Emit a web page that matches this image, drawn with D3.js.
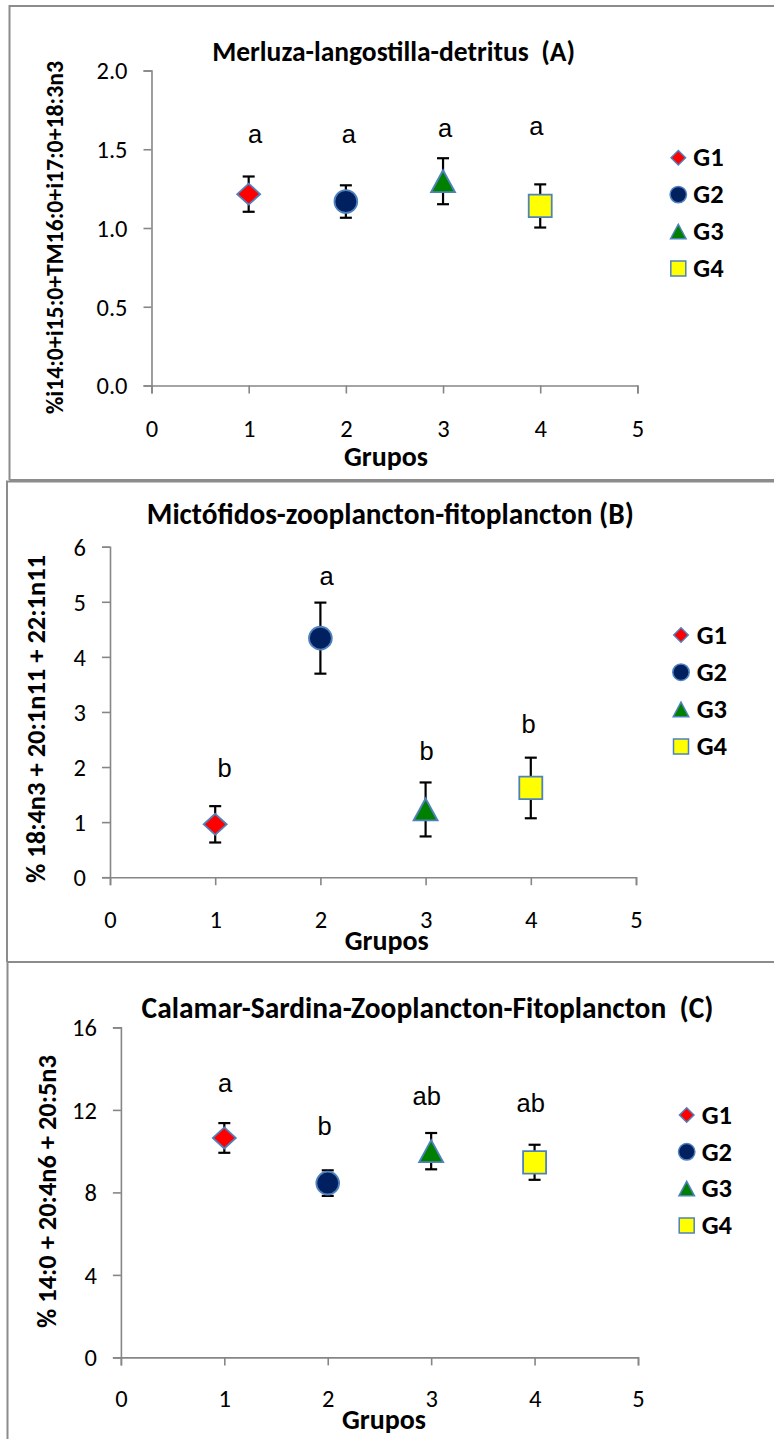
<!DOCTYPE html>
<html><head><meta charset="utf-8">
<script src="https://cdn.jsdelivr.net/npm/d3@7"></script>
<style>
html,body{margin:0;padding:0;background:#fff;}
svg{display:block;}
text.title{white-space:pre;}
</style></head>
<body>
<svg id="chart" width="774" height="1439"></svg>
<script>
// ---------------- data ----------------
const groups = ["G1", "G2", "G3", "G4"];
const groupX = [1, 2, 3, 4];
const xTicks = [0, 1, 2, 3, 4, 5];
const xLabel = "Grupos";

const titleA = "Merluza-langostilla-detritus  (A)";
const yLabelA = "%i14:0+i15:0+TM16:0+i17:0+18:3n3";
const meanA = [1.215, 1.168, 1.297, 1.140];
const errA = [0.112, 0.103, 0.146, 0.137];
const lettersA = ["a", "a", "a", "a"];
const letterXA = [1.065, 2.03, 3.02, 3.96];
const letterYA = [1.539, 1.539, 1.577, 1.591];
const yTicksA = [0, 0.5, 1.0, 1.5, 2.0];

const titleB = "Mictófidos-zooplancton-fitoplancton (B)";
const yLabelB = "% 18:4n3 + 20:1n11 + 22:1n11";
const meanB = [0.96, 4.34, 1.23, 1.62];
const errB = [0.33, 0.645, 0.49, 0.55];
const lettersB = ["b", "a", "b", "b"];
const letterXB = [1.09, 2.06, 3.01, 3.98];
const letterYB = [1.81, 5.30, 2.13, 2.62];
const yTicksB = [0, 1, 2, 3, 4, 5, 6];

const titleC = "Calamar-Sardina-Zooplancton-Fitoplancton  (C)";
const yLabelC = "% 14:0 + 20:4n6 + 20:5n3";
const meanC = [10.64, 8.45, 10.0, 9.46];
const errC = [0.72, 0.62, 0.88, 0.85];
const lettersC = ["a", "b", "ab", "ab"];
const letterXC = [1.007, 1.97, 2.957, 3.963];
const letterYC = [12.88, 10.80, 12.23, 11.91];
const yTicksC = [0, 4, 8, 12, 16];

// ---------------- styles ----------------
const shapes = ["diamond", "circle", "triangle", "square"];
const fills = ["#FF0000", "#002060", "#008000", "#FFFF00"];
const markerStroke = "#4F81BD";
const axisColor = "#868686";
const borderColor = "#8C8C8C";
const FONT = "Carlito, Lato, sans-serif";
const LETTER_FONT = "'Liberation Sans', Arial, sans-serif";

// ---------------- layout ----------------
const panels = [
  { title: titleA, yLabel: yLabelA, mean: meanA, err: errA, letters: lettersA, lx: letterXA, ly: letterYA,
    yTicks: yTicksA, yFmt: d3.format(".1f"),
    xRange: [151.5, 637.4], yRange: [385.5, 70.5],
    titlePos: [393.6, 61, 363], yLabPos: [63, 237.5, 353], xLabPos: [386, 466],
    xTickBase: 51.5, legend: [678.3, 157.7, 36.9, 693.3],
    box: { left: 9.5, top: 6, bottom: 480 } },
  { title: titleB, yLabel: yLabelB, mean: meanB, err: errB, letters: lettersB, lx: letterXB, ly: letterYB,
    yTicks: yTicksB, yFmt: d3.format("d"),
    xRange: [110, 636], yRange: [877.2, 546.7],
    titlePos: [390.3, 524, 487], yLabPos: [45, 719, 328], xLabPos: [386.7, 950],
    xTickBase: 51, legend: [681, 635, 37.2, 696.7],
    box: { left: 7, top: 481.5, bottom: 962 } },
  { title: titleC, yLabel: yLabelC, mean: meanC, err: errC, letters: lettersC, lx: letterXC, ly: letterYC,
    yTicks: yTicksC, yFmt: d3.format("d"),
    xRange: [120.9, 638], yRange: [1357.4, 1027.4],
    titlePos: [427.5, 1018, 572], yLabPos: [56, 1191.5, 273], xLabPos: [384, 1429],
    xTickBase: 49.6, legend: [686.7, 1115, 36.8, 701.7],
    box: { left: 7.5, top: 962, bottom: null } }
];

const svg = d3.select("#chart");

function fitWidth(sel, target) {
  const len = sel.node().getComputedTextLength();
  const fs = parseFloat(sel.attr("font-size"));
  if (len > 0) sel.attr("font-size", (fs * target / len).toFixed(2));
}

function markerPath(shape, w, h) {
  if (shape === "diamond") return `M0,${-h / 2}L${w / 2},0L0,${h / 2}L${-w / 2},0Z`;
  if (shape === "triangle") return `M0,${-h / 2}L${w / 2},${h / 2}L${-w / 2},${h / 2}Z`;
  if (shape === "square") return `M${-w / 2},${-h / 2}h${w}v${h}h${-w}Z`;
  return "";
}

function drawMarker(g, i, big) {
  const s = shapes[i];
  if (s === "circle") {
    g.append("circle").attr("r", big ? 11.4 : 8.2)
      .attr("fill", fills[i]).attr("stroke", markerStroke).attr("stroke-width", big ? 1.8 : 1.5);
  } else {
    let w, h;
    if (big) { [w, h] = s === "diamond" ? [23, 21] : s === "triangle" ? [24, 22] : [23, 22.5]; }
    else { [w, h] = s === "diamond" ? [14.5, 14.5] : s === "triangle" ? [15.5, 14.5] : [15, 15]; }
    g.append("path").attr("d", markerPath(s, w, h))
      .attr("fill", fills[i]).attr("stroke", markerStroke).attr("stroke-width", big ? 1.8 : 1.5)
      .attr("stroke-linejoin", "miter");
  }
}

// borders
panels.forEach(p => {
  const b = p.box;
  const d = `M${b.left},${b.bottom == null ? 1445 : b.bottom}V${b.top}H780`;
  svg.append("path").attr("d", d).attr("fill", "none").attr("stroke", borderColor).attr("stroke-width", 2);
  if (b.bottom != null) {
    svg.append("line").attr("x1", b.left).attr("x2", 780).attr("y1", b.bottom).attr("y2", b.bottom)
      .attr("stroke", borderColor).attr("stroke-width", 2);
  }
});

panels.forEach(p => {
  const x = d3.scaleLinear().domain([0, 5]).range(p.xRange);
  const y = d3.scaleLinear().domain([p.yTicks[0], p.yTicks[p.yTicks.length - 1]]).range(p.yRange);
  const g = svg.append("g");

  // axes
  const ya = g.append("g").attr("transform", `translate(${p.xRange[0]},0)`)
    .call(d3.axisLeft(y).tickValues(p.yTicks).tickFormat(p.yFmt).tickSize(8).tickPadding(16));
  const xa = g.append("g").attr("transform", `translate(0,${p.yRange[0]})`)
    .call(d3.axisBottom(x).tickValues(xTicks).tickFormat(d3.format("d")).tickSize(8));
  [ya, xa].forEach(a => {
    a.attr("font-family", FONT).attr("font-size", 24.5);
    a.select(".domain").attr("stroke", axisColor).attr("stroke-width", 1.6);
    a.selectAll(".tick line").attr("stroke", axisColor).attr("stroke-width", 1.6);
    a.selectAll(".tick text").attr("font-family", FONT).attr("font-size", 24.5).attr("fill", "#000");
  });
  ya.selectAll(".tick text").attr("dy", "0.34em");
  xa.selectAll(".tick text").attr("y", p.xTickBase).attr("dy", 0);

  // error bars
  const eb = g.append("g").attr("stroke", "#000").attr("stroke-width", 2.2);
  groupX.forEach((gx, i) => {
    const cx = x(gx), y1 = y(p.mean[i] + p.err[i]), y2 = y(p.mean[i] - p.err[i]);
    eb.append("line").attr("x1", cx).attr("x2", cx).attr("y1", y1).attr("y2", y2);
    eb.append("line").attr("x1", cx - 6).attr("x2", cx + 6).attr("y1", y1).attr("y2", y1);
    eb.append("line").attr("x1", cx - 6).attr("x2", cx + 6).attr("y1", y2).attr("y2", y2);
  });

  // markers
  groupX.forEach((gx, i) => {
    const mg = g.append("g").attr("transform", `translate(${x(gx)},${y(p.mean[i])})`);
    drawMarker(mg, i, true);
  });

  // significance letters
  p.letters.forEach((t, i) => {
    g.append("text").attr("x", x(p.lx[i])).attr("y", y(p.ly[i]))
      .attr("text-anchor", "middle").attr("font-family", LETTER_FONT).attr("font-size", 25.5)
      .attr("fill", "#000").text(t);
  });

  // title
  const tt = g.append("text").attr("class", "title").attr("x", p.titlePos[0]).attr("y", p.titlePos[1])
    .attr("text-anchor", "middle").attr("font-family", FONT).attr("font-weight", "bold")
    .attr("font-size", 25).attr("fill", "#000").text(p.title);
  fitWidth(tt, p.titlePos[2]);

  // y label
  const yl = g.append("text")
    .attr("transform", `translate(${p.yLabPos[0]},${p.yLabPos[1]}) rotate(-90)`)
    .attr("text-anchor", "middle").attr("font-family", FONT).attr("font-weight", "bold")
    .attr("font-size", 23).attr("fill", "#000").text(p.yLabel);
  fitWidth(yl, p.yLabPos[2]);

  // x label
  const xl = g.append("text").attr("x", p.xLabPos[0]).attr("y", p.xLabPos[1])
    .attr("text-anchor", "middle").attr("font-family", FONT).attr("font-weight", "bold")
    .attr("font-size", 25).attr("fill", "#000").text(xLabel);
  fitWidth(xl, 84);

  // legend
  const [lx, ly0, step, tx] = p.legend;
  groups.forEach((name, i) => {
    const ly = ly0 + i * step;
    const mg = g.append("g").attr("transform", `translate(${lx},${ly})`);
    drawMarker(mg, i, false);
    g.append("text").attr("x", tx).attr("y", ly).attr("dy", "0.33em")
      .attr("font-family", FONT).attr("font-weight", "bold").attr("font-size", 26.5)
      .attr("fill", "#000").text(name);
  });
});
</script>
</body></html>
